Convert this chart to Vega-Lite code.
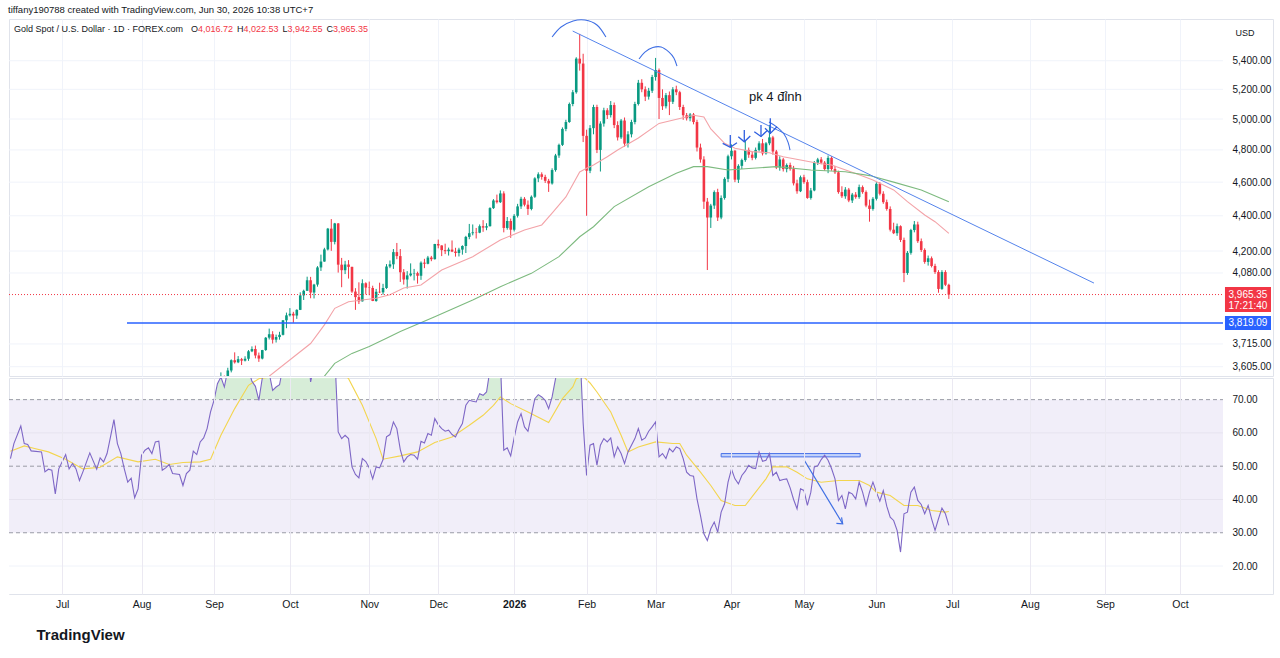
{
  "$schema": "https://vega.github.io/schema/vega-lite/v6.json",
  "padding": {"left": 8, "right": 8, "top": 5, "bottom": 4},
  "title": {"text": "tiffany190788 created with TradingView.com, Jun 30, 2026 10:38 UTC+7", "anchor": "start", "fontSize": 9.5, "fontWeight": "normal", "color": "#131722", "offset": 4},
  "spacing": 0,
  "datasets": {
    "cd": [
      {"i":0,"o":3448,"h":3490,"l":3436,"c":3477},{"i":1,"o":3477,"h":3540,"l":3473,"c":3533},{"i":2,"o":3533,"h":3578,"l":3525,"c":3559},
      {"i":3,"o":3559,"h":3563,"l":3511,"c":3545},{"i":4,"o":3545,"h":3600,"l":3535,"c":3587},{"i":5,"o":3587,"h":3640,"l":3578,"c":3636},
      {"i":6,"o":3636,"h":3674,"l":3620,"c":3626},{"i":7,"o":3626,"h":3656,"l":3622,"c":3641},{"i":8,"o":3641,"h":3647,"l":3613,"c":3634},
      {"i":9,"o":3634,"h":3655,"l":3630,"c":3643},{"i":10,"o":3643,"h":3685,"l":3633,"c":3679},{"i":11,"o":3679,"h":3703,"l":3675,"c":3690},
      {"i":12,"o":3690,"h":3707,"l":3645,"c":3659},{"i":13,"o":3659,"h":3673,"l":3628,"c":3644},{"i":14,"o":3644,"h":3686,"l":3640,"c":3685},
      {"i":15,"o":3685,"h":3749,"l":3681,"c":3746},{"i":16,"o":3746,"h":3791,"l":3737,"c":3763},{"i":17,"o":3763,"h":3778,"l":3717,"c":3736},
      {"i":18,"o":3736,"h":3761,"l":3722,"c":3749},{"i":19,"o":3749,"h":3775,"l":3736,"c":3760},{"i":20,"o":3760,"h":3834,"l":3757,"c":3833},
      {"i":21,"o":3833,"h":3872,"l":3793,"c":3858},{"i":22,"o":3858,"h":3895,"l":3852,"c":3866},{"i":23,"o":3866,"h":3876,"l":3820,"c":3857},
      {"i":24,"o":3857,"h":3889,"l":3840,"c":3886},{"i":25,"o":3886,"h":3977,"l":3885,"c":3961},{"i":26,"o":3961,"h":3991,"l":3937,"c":3985},
      {"i":27,"o":3985,"h":4060,"l":3985,"c":4041},{"i":28,"o":4041,"h":4059,"l":3946,"c":3976},{"i":29,"o":3976,"h":4022,"l":3945,"c":4018},
      {"i":30,"o":4018,"h":4117,"l":4007,"c":4110},{"i":31,"o":4110,"h":4180,"l":4091,"c":4142},{"i":32,"o":4142,"h":4218,"l":4141,"c":4209},
      {"i":33,"o":4209,"h":4330,"l":4203,"c":4326},{"i":34,"o":4326,"h":4381,"l":4201,"c":4251},{"i":35,"o":4251,"h":4359,"l":4237,"c":4356},
      {"i":36,"o":4356,"h":4358,"l":4082,"c":4125},{"i":37,"o":4125,"h":4162,"l":4004,"c":4095},{"i":38,"o":4095,"h":4146,"l":4074,"c":4126},
      {"i":39,"o":4126,"h":4150,"l":4050,"c":4113},{"i":40,"o":4113,"h":4114,"l":3974,"c":3981},{"i":41,"o":3981,"h":3999,"l":3886,"c":3952},
      {"i":42,"o":3952,"h":4030,"l":3916,"c":3930},{"i":43,"o":3930,"h":4046,"l":3929,"c":4025},{"i":44,"o":4025,"h":4030,"l":3966,"c":4002},
      {"i":45,"o":4002,"h":4034,"l":3962,"c":4000},{"i":46,"o":4000,"h":4012,"l":3931,"c":3932},{"i":47,"o":3932,"h":3995,"l":3928,"c":3980},
      {"i":48,"o":3980,"h":4028,"l":3973,"c":3977},{"i":49,"o":3977,"h":4022,"l":3965,"c":4000},{"i":50,"o":4000,"h":4128,"l":3995,"c":4115},
      {"i":51,"o":4115,"h":4148,"l":4106,"c":4127},{"i":52,"o":4127,"h":4211,"l":4102,"c":4194},{"i":53,"o":4194,"h":4245,"l":4155,"c":4172},
      {"i":54,"o":4172,"h":4211,"l":4032,"c":4084},{"i":55,"o":4084,"h":4101,"l":4018,"c":4045},{"i":56,"o":4045,"h":4090,"l":3997,"c":4067},
      {"i":57,"o":4067,"h":4132,"l":4061,"c":4077},{"i":58,"o":4077,"h":4102,"l":4040,"c":4079},{"i":59,"o":4079,"h":4087,"l":4023,"c":4065},
      {"i":60,"o":4065,"h":4143,"l":4043,"c":4136},{"i":61,"o":4136,"h":4157,"l":4106,"c":4130},{"i":62,"o":4130,"h":4173,"l":4127,"c":4164},
      {"i":63,"o":4164,"h":4173,"l":4144,"c":4155},{"i":64,"o":4155,"h":4240,"l":4153,"c":4239},{"i":65,"o":4239,"h":4264,"l":4215,"c":4231},
      {"i":66,"o":4231,"h":4232,"l":4172,"c":4205},{"i":67,"o":4205,"h":4241,"l":4183,"c":4199},{"i":68,"o":4199,"h":4219,"l":4175,"c":4208},
      {"i":69,"o":4208,"h":4259,"l":4194,"c":4197},{"i":70,"o":4197,"h":4218,"l":4169,"c":4189},{"i":71,"o":4189,"h":4218,"l":4170,"c":4208},
      {"i":72,"o":4208,"h":4232,"l":4180,"c":4228},{"i":73,"o":4228,"h":4285,"l":4189,"c":4279},{"i":74,"o":4279,"h":4353,"l":4266,"c":4300},
      {"i":75,"o":4300,"h":4350,"l":4288,"c":4305},{"i":76,"o":4305,"h":4330,"l":4270,"c":4303},{"i":77,"o":4303,"h":4350,"l":4300,"c":4340},
      {"i":78,"o":4340,"h":4375,"l":4308,"c":4332},{"i":79,"o":4332,"h":4357,"l":4317,"c":4340},{"i":80,"o":4340,"h":4450,"l":4338,"c":4445},
      {"i":81,"o":4445,"h":4498,"l":4440,"c":4490},{"i":82,"o":4490,"h":4525,"l":4472,"c":4480},{"i":83,"o":4480,"h":4550,"l":4475,"c":4532},
      {"i":84,"o":4532,"h":4545,"l":4305,"c":4330},{"i":85,"o":4330,"h":4393,"l":4320,"c":4370},{"i":86,"o":4370,"h":4384,"l":4274,"c":4320},
      {"i":87,"o":4320,"h":4410,"l":4310,"c":4400},{"i":88,"o":4400,"h":4470,"l":4390,"c":4455},{"i":89,"o":4455,"h":4512,"l":4440,"c":4500},
      {"i":90,"o":4500,"h":4510,"l":4455,"c":4465},{"i":91,"o":4465,"h":4490,"l":4405,"c":4440},{"i":92,"o":4440,"h":4520,"l":4432,"c":4512},
      {"i":93,"o":4512,"h":4630,"l":4505,"c":4623},{"i":94,"o":4623,"h":4660,"l":4600,"c":4648},{"i":95,"o":4648,"h":4660,"l":4615,"c":4632},
      {"i":96,"o":4632,"h":4645,"l":4595,"c":4608},{"i":97,"o":4608,"h":4620,"l":4541,"c":4592},{"i":98,"o":4592,"h":4685,"l":4585,"c":4674},
      {"i":99,"o":4674,"h":4775,"l":4664,"c":4765},{"i":100,"o":4765,"h":4840,"l":4750,"c":4832},{"i":101,"o":4832,"h":4945,"l":4825,"c":4935},
      {"i":102,"o":4935,"h":4995,"l":4920,"c":4980},{"i":103,"o":4980,"h":5110,"l":4975,"c":5100},{"i":104,"o":5100,"h":5195,"l":5085,"c":5180},
      {"i":105,"o":5180,"h":5425,"l":5170,"c":5415},{"i":106,"o":5415,"h":5595,"l":5330,"c":5380},{"i":107,"o":5380,"h":5450,"l":4850,"c":4890},
      {"i":108,"o":4890,"h":4930,"l":4400,"c":4670},{"i":109,"o":4670,"h":4960,"l":4655,"c":4940},{"i":110,"o":4940,"h":5095,"l":4900,"c":5080},
      {"i":111,"o":5080,"h":5095,"l":4780,"c":4800},{"i":112,"o":4800,"h":4985,"l":4665,"c":4970},{"i":113,"o":4970,"h":5075,"l":4950,"c":5058},
      {"i":114,"o":5058,"h":5072,"l":5000,"c":5026},{"i":115,"o":5026,"h":5120,"l":5010,"c":5093},{"i":116,"o":5093,"h":5110,"l":4940,"c":4960},
      {"i":117,"o":4960,"h":4985,"l":4860,"c":4880},{"i":118,"o":4880,"h":5000,"l":4870,"c":4990},{"i":119,"o":4990,"h":5010,"l":4820,"c":4840},
      {"i":120,"o":4840,"h":4920,"l":4815,"c":4900},{"i":121,"o":4900,"h":4995,"l":4880,"c":4980},{"i":122,"o":4980,"h":5115,"l":4965,"c":5100},
      {"i":123,"o":5100,"h":5265,"l":5090,"c":5245},{"i":124,"o":5245,"h":5270,"l":5180,"c":5200},{"i":125,"o":5200,"h":5220,"l":5120,"c":5150},
      {"i":126,"o":5150,"h":5210,"l":5130,"c":5190},{"i":127,"o":5190,"h":5300,"l":5175,"c":5285},{"i":128,"o":5285,"h":5420,"l":5260,"c":5334},
      {"i":129,"o":5334,"h":5345,"l":5000,"c":5141},{"i":130,"o":5141,"h":5200,"l":5060,"c":5085},{"i":131,"o":5085,"h":5175,"l":5070,"c":5160},
      {"i":132,"o":5160,"h":5185,"l":5026,"c":5115},{"i":133,"o":5115,"h":5215,"l":5100,"c":5200},{"i":134,"o":5200,"h":5225,"l":5160,"c":5180},
      {"i":135,"o":5180,"h":5190,"l":5060,"c":5080},{"i":136,"o":5080,"h":5095,"l":4995,"c":5025},{"i":137,"o":5025,"h":5040,"l":4990,"c":5005},
      {"i":138,"o":5005,"h":5040,"l":4985,"c":5030},{"i":139,"o":5030,"h":5040,"l":4965,"c":4980},{"i":140,"o":4980,"h":4995,"l":4790,"c":4815},
      {"i":141,"o":4815,"h":4840,"l":4720,"c":4740},{"i":142,"o":4740,"h":4760,"l":4440,"c":4483},{"i":143,"o":4483,"h":4505,"l":4096,"c":4390},
      {"i":144,"o":4390,"h":4470,"l":4330,"c":4460},{"i":145,"o":4460,"h":4550,"l":4440,"c":4540},{"i":146,"o":4540,"h":4560,"l":4370,"c":4390},
      {"i":147,"o":4390,"h":4520,"l":4380,"c":4505},{"i":148,"o":4505,"h":4630,"l":4495,"c":4620},{"i":149,"o":4620,"h":4770,"l":4600,"c":4760},
      {"i":150,"o":4760,"h":4835,"l":4740,"c":4795},{"i":151,"o":4795,"h":4800,"l":4600,"c":4615},{"i":152,"o":4615,"h":4710,"l":4595,"c":4700},
      {"i":153,"o":4700,"h":4745,"l":4680,"c":4736},{"i":154,"o":4736,"h":4860,"l":4725,"c":4800},{"i":155,"o":4800,"h":4815,"l":4750,"c":4770},
      {"i":156,"o":4770,"h":4790,"l":4735,"c":4750},{"i":157,"o":4750,"h":4815,"l":4740,"c":4800},{"i":158,"o":4800,"h":4855,"l":4790,"c":4842},
      {"i":159,"o":4842,"h":4870,"l":4765,"c":4778},{"i":160,"o":4778,"h":4850,"l":4770,"c":4842},{"i":161,"o":4842,"h":4960,"l":4830,"c":4880},
      {"i":162,"o":4880,"h":4890,"l":4770,"c":4790},{"i":163,"o":4790,"h":4800,"l":4680,"c":4690},{"i":164,"o":4690,"h":4760,"l":4670,"c":4740},
      {"i":165,"o":4740,"h":4750,"l":4665,"c":4680},{"i":166,"o":4680,"h":4715,"l":4660,"c":4705},{"i":167,"o":4705,"h":4720,"l":4670,"c":4680},
      {"i":168,"o":4680,"h":4700,"l":4580,"c":4593},{"i":169,"o":4593,"h":4615,"l":4530,"c":4545},{"i":170,"o":4545,"h":4640,"l":4540,"c":4630},
      {"i":171,"o":4630,"h":4645,"l":4590,"c":4600},{"i":172,"o":4600,"h":4615,"l":4500,"c":4505},{"i":173,"o":4505,"h":4565,"l":4495,"c":4550},
      {"i":174,"o":4550,"h":4730,"l":4545,"c":4720},{"i":175,"o":4720,"h":4750,"l":4705,"c":4740},{"i":176,"o":4740,"h":4755,"l":4710,"c":4720},
      {"i":177,"o":4720,"h":4730,"l":4670,"c":4680},{"i":178,"o":4680,"h":4765,"l":4655,"c":4750},{"i":179,"o":4750,"h":4760,"l":4670,"c":4680},
      {"i":180,"o":4680,"h":4700,"l":4650,"c":4660},{"i":181,"o":4660,"h":4670,"l":4530,"c":4540},{"i":182,"o":4540,"h":4575,"l":4505,"c":4515},
      {"i":183,"o":4515,"h":4570,"l":4500,"c":4555},{"i":184,"o":4555,"h":4565,"l":4480,"c":4490},{"i":185,"o":4490,"h":4535,"l":4475,"c":4525},
      {"i":186,"o":4525,"h":4540,"l":4500,"c":4510},{"i":187,"o":4510,"h":4585,"l":4500,"c":4570},{"i":188,"o":4570,"h":4580,"l":4530,"c":4540},
      {"i":189,"o":4540,"h":4550,"l":4450,"c":4460},{"i":190,"o":4460,"h":4495,"l":4366,"c":4440},{"i":191,"o":4440,"h":4510,"l":4430,"c":4500},
      {"i":192,"o":4500,"h":4600,"l":4490,"c":4590},{"i":193,"o":4590,"h":4600,"l":4520,"c":4530},{"i":194,"o":4530,"h":4545,"l":4470,"c":4480},
      {"i":195,"o":4480,"h":4495,"l":4430,"c":4440},{"i":196,"o":4440,"h":4455,"l":4310,"c":4320},{"i":197,"o":4320,"h":4360,"l":4295,"c":4300},
      {"i":198,"o":4300,"h":4355,"l":4285,"c":4340},{"i":199,"o":4340,"h":4345,"l":4250,"c":4262},{"i":200,"o":4262,"h":4275,"l":4031,"c":4080},
      {"i":201,"o":4080,"h":4200,"l":4070,"c":4190},{"i":202,"o":4190,"h":4325,"l":4180,"c":4318},{"i":203,"o":4318,"h":4370,"l":4305,"c":4350},
      {"i":204,"o":4350,"h":4366,"l":4245,"c":4255},{"i":205,"o":4255,"h":4270,"l":4195,"c":4206},{"i":206,"o":4206,"h":4215,"l":4130,"c":4140},
      {"i":207,"o":4140,"h":4175,"l":4120,"c":4160},{"i":208,"o":4160,"h":4170,"l":4110,"c":4118},{"i":209,"o":4118,"h":4130,"l":4075,"c":4085},
      {"i":210,"o":4085,"h":4095,"l":3975,"c":3995},{"i":211,"o":3995,"h":4095,"l":3990,"c":4085},{"i":212,"o":4085,"h":4095,"l":4010,"c":4017},
      {"i":213,"o":4016.72,"h":4022.53,"l":3942.55,"c":3965.35}
    ],
    "ma1": [
      {"i":16,"v":3560},{"i":28,"v":3717},{"i":32,"v":3810},{"i":35,"v":3894},{"i":39,"v":3928},{"i":43,"v":3937},{"i":47,"v":3946},
      {"i":51,"v":3964},{"i":55,"v":4000},{"i":60,"v":4016},{"i":66,"v":4096},{"i":75,"v":4169},{"i":83,"v":4262},{"i":90,"v":4318},
      {"i":95,"v":4347},{"i":98,"v":4416},{"i":102,"v":4511},{"i":106,"v":4662},{"i":108,"v":4685},{"i":110,"v":4705},{"i":114,"v":4757},
      {"i":117,"v":4799},{"i":123,"v":4876},{"i":129,"v":4971},{"i":135,"v":5003},{"i":139,"v":5025},{"i":142,"v":5014},{"i":144,"v":4935},
      {"i":148,"v":4842},{"i":151,"v":4810},{"i":156,"v":4789},{"i":161,"v":4782},{"i":165,"v":4757},{"i":170,"v":4736},{"i":175,"v":4716},
      {"i":179,"v":4705},{"i":187,"v":4645},{"i":191,"v":4613},{"i":197,"v":4553},{"i":201,"v":4483},{"i":206,"v":4405},{"i":209,"v":4366},
      {"i":213,"v":4299}
    ],
    "ma2": [
      {"i":31,"v":3540},{"i":35,"v":3621},{"i":40,"v":3669},{"i":45,"v":3702},{"i":50,"v":3743},{"i":54,"v":3776},{"i":64,"v":3851},
      {"i":75,"v":3937},{"i":83,"v":4007},{"i":92,"v":4078},{"i":100,"v":4169},{"i":106,"v":4280},{"i":110,"v":4337},{"i":116,"v":4454},
      {"i":126,"v":4572},{"i":134,"v":4654},{"i":139,"v":4695},{"i":143,"v":4695},{"i":149,"v":4674},{"i":155,"v":4684},{"i":163,"v":4695},
      {"i":173,"v":4674},{"i":183,"v":4664},{"i":190,"v":4640},{"i":197,"v":4600},{"i":205,"v":4553},{"i":213,"v":4483}
    ],
    "rsi": [
      {"i":-59,"v":52.3},{"i":-58,"v":56.8},{"i":-56,"v":62.1},{"i":-55,"v":56.8},{"i":-54,"v":56.5},{"i":-53,"v":54.6},{"i":-50,"v":54.3},
      {"i":-49,"v":48.3},{"i":-48,"v":49.1},{"i":-47,"v":48.8},{"i":-46,"v":41.7},{"i":-45,"v":49.2},{"i":-43,"v":53.5},{"i":-42,"v":49.2},
      {"i":-41,"v":50.8},{"i":-40,"v":49.2},{"i":-39,"v":45.7},{"i":-38,"v":48.3},{"i":-36,"v":54.0},{"i":-34,"v":49.1},{"i":-33,"v":52.5},
      {"i":-32,"v":51.3},{"i":-31,"v":53.8},{"i":-30,"v":58.8},{"i":-29,"v":64.0},{"i":-28,"v":56.8},{"i":-27,"v":53.8},{"i":-26,"v":49.2},
      {"i":-25,"v":45.2},{"i":-24,"v":46.4},{"i":-23,"v":40.5},{"i":-22,"v":43.2},{"i":-21,"v":53.3},{"i":-20,"v":54.8},{"i":-19,"v":55.5},
      {"i":-18,"v":53.8},{"i":-17,"v":57.3},{"i":-16,"v":57.5},{"i":-15,"v":48.8},{"i":-14,"v":49.5},{"i":-13,"v":50.5},{"i":-12,"v":47.8},
      {"i":-10,"v":47.5},{"i":-9,"v":44.2},{"i":-8,"v":47.8},{"i":-7,"v":48.8},{"i":-6,"v":54.5},{"i":-5,"v":53.5},{"i":-4,"v":57.3},
      {"i":-3,"v":58.5},{"i":-2,"v":61.3},{"i":-1,"v":66.3},{"i":0,"v":69.8},{"i":1,"v":74.8},{"i":2,"v":76.8},{"i":3,"v":73.8},
      {"i":4,"v":79},{"i":5,"v":81},{"i":6,"v":80},{"i":7,"v":81},{"i":8,"v":80},{"i":9,"v":81},{"i":10,"v":79},{"i":11,"v":75.5},
      {"i":12,"v":74},{"i":13,"v":69.8},{"i":14,"v":76.5},{"i":15,"v":79},{"i":16,"v":78},{"i":17,"v":72.8},{"i":18,"v":73.8},
      {"i":19,"v":74.5},{"i":20,"v":80},{"i":21,"v":82},{"i":22,"v":81},{"i":23,"v":80},{"i":24,"v":82},{"i":25,"v":85},{"i":26,"v":86},
      {"i":27,"v":88},{"i":28,"v":75.3},{"i":29,"v":80},{"i":30,"v":84},{"i":31,"v":85},{"i":32,"v":87},{"i":33,"v":90},{"i":34,"v":83},
      {"i":35,"v":84},{"i":36,"v":60.3},{"i":37,"v":58.3},{"i":38,"v":59.3},{"i":39,"v":58.3},{"i":40,"v":49.8},{"i":41,"v":47.5},
      {"i":42,"v":46.5},{"i":43,"v":52.3},{"i":44,"v":51.4},{"i":45,"v":49.5},{"i":46,"v":46.2},{"i":47,"v":49.8},{"i":48,"v":49.5},
      {"i":49,"v":52.0},{"i":50,"v":58.8},{"i":51,"v":59.5},{"i":52,"v":63.3},{"i":53,"v":61.3},{"i":54,"v":55.0},{"i":55,"v":51.3},
      {"i":56,"v":52.8},{"i":57,"v":53.5},{"i":58,"v":53.3},{"i":59,"v":52.1},{"i":60,"v":57.5},{"i":61,"v":57.0},{"i":62,"v":59.8},
      {"i":63,"v":59.3},{"i":64,"v":64.3},{"i":65,"v":62.5},{"i":66,"v":61.3},{"i":67,"v":60.5},{"i":68,"v":60.8},{"i":69,"v":59.5},
      {"i":70,"v":58.8},{"i":71,"v":61.0},{"i":72,"v":62.8},{"i":73,"v":68.3},{"i":74,"v":69.8},{"i":75,"v":69.5},{"i":76,"v":69.3},
      {"i":77,"v":71.8},{"i":78,"v":71.3},{"i":79,"v":72.3},{"i":80,"v":79},{"i":81,"v":82},{"i":82,"v":80},{"i":83,"v":82},
      {"i":84,"v":54.8},{"i":85,"v":55.5},{"i":86,"v":53.1},{"i":87,"v":58.5},{"i":88,"v":63.3},{"i":89,"v":65.8},{"i":90,"v":61.8},
      {"i":91,"v":60.5},{"i":92,"v":65.3},{"i":93,"v":70.3},{"i":94,"v":71.5},{"i":95,"v":70.8},{"i":96,"v":69.8},{"i":97,"v":67.3},
      {"i":98,"v":70.8},{"i":99,"v":76.3},{"i":100,"v":79},{"i":101,"v":82},{"i":102,"v":83},{"i":103,"v":85},{"i":104,"v":86},
      {"i":105,"v":90},{"i":106,"v":87},{"i":107,"v":63},{"i":108,"v":47.2},{"i":109,"v":56.3},{"i":110,"v":56.8},{"i":111,"v":50.3},
      {"i":112,"v":56.3},{"i":113,"v":58.3},{"i":114,"v":57.3},{"i":115,"v":58.5},{"i":116,"v":52.8},{"i":117,"v":55.8},{"i":118,"v":53.8},
      {"i":119,"v":50.8},{"i":120,"v":54.3},{"i":122,"v":58.3},{"i":123,"v":61.3},{"i":124,"v":57.8},{"i":125,"v":58.5},{"i":126,"v":60.5},
      {"i":127,"v":61.8},{"i":128,"v":63.3},{"i":129,"v":52.8},{"i":130,"v":53.8},{"i":131,"v":52.3},{"i":132,"v":55.3},{"i":133,"v":54.3},
      {"i":134,"v":55.8},{"i":135,"v":55.3},{"i":136,"v":52.3},{"i":137,"v":48.2},{"i":138,"v":47.2},{"i":139,"v":47.0},{"i":140,"v":40.2},
      {"i":141,"v":35.2},{"i":142,"v":29.7},{"i":143,"v":27.7},{"i":144,"v":31.2},{"i":145,"v":33.2},{"i":146,"v":30.2},{"i":147,"v":36.2},
      {"i":148,"v":38.7},{"i":149,"v":45.2},{"i":150,"v":49.1},{"i":151,"v":46.2},{"i":152,"v":44.7},{"i":153,"v":47.2},{"i":154,"v":48.5},
      {"i":155,"v":50.3},{"i":156,"v":49.5},{"i":157,"v":49.3},{"i":158,"v":54.3},{"i":159,"v":51.5},{"i":160,"v":51.8},{"i":161,"v":53.8},
      {"i":162,"v":47.2},{"i":163,"v":48.2},{"i":164,"v":45.7},{"i":165,"v":46.0},{"i":166,"v":46.2},{"i":167,"v":43.5},{"i":168,"v":40.0},
      {"i":169,"v":37.2},{"i":170,"v":43.2},{"i":171,"v":42.7},{"i":172,"v":38.2},{"i":173,"v":42.2},{"i":174,"v":49.8},{"i":175,"v":50.1},
      {"i":176,"v":52.0},{"i":177,"v":53.3},{"i":178,"v":51.8},{"i":179,"v":49.3},{"i":180,"v":46.2},{"i":181,"v":39.7},{"i":182,"v":41.2},
      {"i":183,"v":37.2},{"i":184,"v":42.2},{"i":185,"v":41.7},{"i":186,"v":40.2},{"i":187,"v":45.2},{"i":188,"v":42.2},{"i":189,"v":38.2},
      {"i":190,"v":42.2},{"i":191,"v":45.2},{"i":192,"v":42.2},{"i":193,"v":39.5},{"i":194,"v":42.7},{"i":195,"v":38.0},{"i":196,"v":34.7},
      {"i":197,"v":33.7},{"i":198,"v":30.7},{"i":199,"v":24.2},{"i":200,"v":35.7},{"i":201,"v":36.2},{"i":202,"v":42.2},{"i":203,"v":43.7},
      {"i":204,"v":39.7},{"i":205,"v":38.5},{"i":206,"v":35.7},{"i":207,"v":38.2},{"i":208,"v":34.2},{"i":209,"v":30.7},{"i":210,"v":34.2},
      {"i":211,"v":37.4},{"i":212,"v":35.7},{"i":213,"v":32.2}
    ],
    "rsima": [
      {"i":-59,"v":54.5},{"i":-55,"v":56.1},{"i":-52,"v":55.3},{"i":-48,"v":54.3},{"i":-43,"v":52.1},{"i":-38,"v":49.2},{"i":-33,"v":49.7},
      {"i":-28,"v":52.8},{"i":-22,"v":51.3},{"i":-17,"v":52.1},{"i":-13,"v":50.5},{"i":-9,"v":51.1},{"i":-4,"v":51.3},{"i":-1,"v":52.1},
      {"i":2,"v":59.3},{"i":6,"v":67.3},{"i":10,"v":74.3},{"i":13,"v":76.3},{"i":18,"v":77},{"i":24,"v":79},{"i":30,"v":81},{"i":35,"v":80},
      {"i":39,"v":76.3},{"i":43,"v":68.3},{"i":47,"v":58.3},{"i":49,"v":52.1},{"i":54,"v":53.1},{"i":59,"v":54.3},{"i":64,"v":57.1},
      {"i":69,"v":58.8},{"i":74,"v":62.3},{"i":78,"v":65.3},{"i":81,"v":68.3},{"i":83,"v":70.8},{"i":86,"v":68.8},{"i":91,"v":66.3},
      {"i":97,"v":63.1},{"i":101,"v":70.3},{"i":104,"v":73.8},{"i":105,"v":76.3},{"i":107,"v":77},{"i":109,"v":75},{"i":111,"v":72.3},
      {"i":115,"v":66.3},{"i":118,"v":59.3},{"i":120,"v":54.3},{"i":123,"v":55.8},{"i":128,"v":57.3},{"i":133,"v":56.8},{"i":135,"v":56.8},
      {"i":137,"v":53.3},{"i":141,"v":48.2},{"i":144,"v":44.2},{"i":147,"v":39.7},{"i":151,"v":38.2},{"i":154,"v":38.2},{"i":157,"v":42.2},
      {"i":160,"v":46.2},{"i":162,"v":49.8},{"i":166,"v":49.8},{"i":169,"v":48.2},{"i":172,"v":46.2},{"i":176,"v":45.2},{"i":181,"v":45.7},
      {"i":187,"v":45.7},{"i":190,"v":44.2},{"i":192,"v":42.2},{"i":196,"v":41.2},{"i":200,"v":38.2},{"i":204,"v":38.2},{"i":208,"v":36.7},
      {"i":212,"v":36.2},{"i":213,"v":36.4}
    ],
    "arcs": [
      {"id":"a1","n":0,"i":98.0,"p":5572},{"id":"a1","n":1,"i":100.6,"p":5646},{"id":"a1","n":2,"i":104.1,"p":5691},
      {"id":"a1","n":3,"i":107.5,"p":5698},{"id":"a1","n":4,"i":111.0,"p":5661},{"id":"a1","n":5,"i":113.6,"p":5572},
      {"id":"a2","n":0,"i":123.2,"p":5412},{"id":"a2","n":1,"i":124.9,"p":5462},{"id":"a2","n":2,"i":127.2,"p":5495},
      {"id":"a2","n":3,"i":129.6,"p":5499},{"id":"a2","n":4,"i":131.9,"p":5462},{"id":"a2","n":5,"i":133.3,"p":5419},
      {"id":"a2","n":6,"i":134.2,"p":5362},
      {"id":"a3","n":0,"i":160.87,"p":4980},{"id":"a3","n":1,"i":163.19,"p":4947},{"id":"a3","n":2,"i":165.22,"p":4902},
      {"id":"a3","n":3,"i":166.38,"p":4850},{"id":"a3","n":4,"i":166.96,"p":4799}
    ],
    "marks": [
      {"id":"s1","n":0,"i":149.65,"p":4895},{"id":"s1","n":1,"i":149.65,"p":4817},
      {"id":"h1","n":0,"i":147.45,"p":4842},{"id":"h1","n":1,"i":149.65,"p":4817},{"id":"h1","n":2,"i":151.59,"p":4846},
      {"id":"s2","n":0,"i":153.71,"p":4928},{"id":"s2","n":1,"i":153.71,"p":4852},
      {"id":"h2","n":0,"i":151.97,"p":4884},{"id":"h2","n":1,"i":153.71,"p":4852},{"id":"h2","n":2,"i":155.45,"p":4889},
      {"id":"s3","n":0,"i":158.55,"p":4960},{"id":"s3","n":1,"i":158.55,"p":4884},
      {"id":"h3","n":0,"i":156.61,"p":4917},{"id":"h3","n":1,"i":158.55,"p":4886},{"id":"h3","n":2,"i":160.29,"p":4923},
      {"id":"s4","n":0,"i":161.25,"p":5005},{"id":"s4","n":1,"i":161.25,"p":4902},
      {"id":"h4","n":0,"i":159.71,"p":4939},{"id":"h4","n":1,"i":161.25,"p":4906},{"id":"h4","n":2,"i":163.19,"p":4949}
    ],
    "hdr": [
      {"t":"Gold Spot / U.S. Dollar · 1D · FOREX.com","part":"n","i":-57.97},
      {"t":"O","part":"n","i":-6.67},{"t":"4,016.72","part":"v","i":-4.64},
      {"t":"H","part":"n","i":6.67},{"t":"4,022.53","part":"v","i":8.55},
      {"t":"L","part":"n","i":19.86},{"t":"3,942.55","part":"v","i":21.31},
      {"t":"C","part":"n","i":32.61},{"t":"3,965.35","part":"v","i":34.49}
    ],
    "pgrid": [{"v":5400},{"v":5200},{"v":5000},{"v":4800},{"v":4600},{"v":4400},{"v":4200},{"v":4080},{"v":3715},{"v":3605}]
  },
  "vconcat": [
    {
      "width": 1264,
      "height": 357,
      "layer": [
        {
          "data": {"name": "pgrid"},
          "mark": {"type": "rule", "color": "#f0f3fa", "strokeWidth": 1},
          "encoding": {
            "y": {"field": "v", "type": "quantitative",
              "scale": {"type": "log", "domain": [3561, 5706], "nice": false, "zero": false, "padding": 0},
              "axis": {"orient": "right", "offset": -50, "values": [5400,5200,5000,4800,4600,4400,4200,4080,3715,3605],
                "format": ",.2f", "grid": false, "ticks": false, "domain": false, "labelPadding": 9, "labelFontSize": 10,
                "labelColor": "#131722", "labelOverlap": false, "labelFlush": false,
                "title": "USD", "titleAngle": 0, "titleX": 12, "titleY": 13, "titleAlign": "left", "titleBaseline": "middle",
                "titleFontSize": 9, "titleFontWeight": "normal", "titleColor": "#131722"}},
            "x": {"datum": -59.42, "type": "quantitative",
              "scale": {"domain": [-59.42, 306.96], "nice": false, "zero": false, "padding": 0},
              "axis": {"values": [-44,-21,0,22,45,65,87,108,128,150,171,192,214,236.5,258.3,280], "grid": true, "gridColor": "#f0f3fa",
                "labels": false, "ticks": false, "domain": false, "title": null}},
            "x2": {"datum": 292.46}
          }
        },
        {
          "data": {"name": "cd"},
          "mark": {"type": "rule", "clip": true, "strokeWidth": 1},
          "encoding": {
            "x": {"field": "i", "type": "quantitative", "scale": {"domain": [-59.42, 306.96], "nice": false, "zero": false, "padding": 0}},
            "y": {"field": "l", "type": "quantitative", "scale": {"type": "log", "domain": [3561, 5706], "nice": false, "zero": false, "padding": 0}},
            "y2": {"field": "h"},
            "color": {"condition": {"test": "datum.c >= datum.o", "value": "#089981"}, "value": "#f23645"}
          }
        },
        {
          "data": {"name": "cd"},
          "mark": {"type": "bar", "clip": true, "size": 2.6},
          "encoding": {
            "x": {"field": "i", "type": "quantitative", "scale": {"domain": [-59.42, 306.96], "nice": false, "zero": false, "padding": 0}},
            "y": {"field": "o", "type": "quantitative", "scale": {"type": "log", "domain": [3561, 5706], "nice": false, "zero": false, "padding": 0}},
            "y2": {"field": "c"},
            "color": {"condition": {"test": "datum.c >= datum.o", "value": "#089981"}, "value": "#f23645"}
          }
        },
        {
          "data": {"name": "ma1"},
          "mark": {"type": "line", "clip": true, "color": "#f3a3a8", "strokeWidth": 1.1},
          "encoding": {"x": {"field": "i", "type": "quantitative", "scale": {"domain": [-59.42, 306.96], "nice": false, "zero": false, "padding": 0}},
            "y": {"field": "v", "type": "quantitative", "scale": {"type": "log", "domain": [3561, 5706], "nice": false, "zero": false, "padding": 0}}}
        },
        {
          "data": {"name": "ma2"},
          "mark": {"type": "line", "clip": true, "color": "#7dba7f", "strokeWidth": 1.1},
          "encoding": {"x": {"field": "i", "type": "quantitative", "scale": {"domain": [-59.42, 306.96], "nice": false, "zero": false, "padding": 0}},
            "y": {"field": "v", "type": "quantitative", "scale": {"type": "log", "domain": [3561, 5706], "nice": false, "zero": false, "padding": 0}}}
        },
        {
          "data": {"values": [{"p": 3965.35}]},
          "mark": {"type": "rule", "clip": true, "color": "#f23645", "strokeDash": [1, 2], "strokeWidth": 1},
          "encoding": {"y": {"field": "p", "type": "quantitative", "scale": {"type": "log", "domain": [3561, 5706], "nice": false, "zero": false, "padding": 0}},
            "x": {"datum": -59.42}, "x2": {"datum": 292.46}}
        },
        {
          "data": {"values": [{"p": 3819.09}]},
          "mark": {"type": "rule", "clip": true, "color": "#2962ff", "strokeWidth": 1.5},
          "encoding": {"y": {"field": "p", "type": "quantitative", "scale": {"type": "log", "domain": [3561, 5706], "nice": false, "zero": false, "padding": 0}},
            "x": {"datum": -25.22}, "x2": {"datum": 292.46}}
        },
        {
          "data": {"values": [{"i": 103.97, "p": 5616, "i2": 255.07, "p2": 4026}]},
          "mark": {"type": "rule", "clip": true, "color": "#5584ec", "strokeWidth": 1},
          "encoding": {"x": {"field": "i", "type": "quantitative", "scale": {"domain": [-59.42, 306.96], "nice": false, "zero": false, "padding": 0}},
            "y": {"field": "p", "type": "quantitative", "scale": {"type": "log", "domain": [3561, 5706], "nice": false, "zero": false, "padding": 0}},
            "x2": {"field": "i2"}, "y2": {"field": "p2"}}
        },
        {
          "data": {"name": "arcs"},
          "mark": {"type": "line", "clip": true, "color": "#3f6fe4", "strokeWidth": 1.1, "interpolate": "cardinal"},
          "encoding": {"x": {"field": "i", "type": "quantitative", "scale": {"domain": [-59.42, 306.96], "nice": false, "zero": false, "padding": 0}},
            "y": {"field": "p", "type": "quantitative", "scale": {"type": "log", "domain": [3561, 5706], "nice": false, "zero": false, "padding": 0}},
            "detail": {"field": "id"}, "order": {"field": "n"}}
        },
        {
          "data": {"name": "marks"},
          "mark": {"type": "line", "clip": true, "color": "#2f5fe0", "strokeWidth": 1.3},
          "encoding": {"x": {"field": "i", "type": "quantitative", "scale": {"domain": [-59.42, 306.96], "nice": false, "zero": false, "padding": 0}},
            "y": {"field": "p", "type": "quantitative", "scale": {"type": "log", "domain": [3561, 5706], "nice": false, "zero": false, "padding": 0}},
            "detail": {"field": "id"}, "order": {"field": "n"}}
        },
        {
          "data": {"values": [{"t": "pk 4 đỉnh", "i": 155.07, "p": 5147}]},
          "mark": {"type": "text", "align": "left", "baseline": "middle", "fontSize": 13, "color": "#131722"},
          "encoding": {"x": {"field": "i", "type": "quantitative", "scale": {"domain": [-59.42, 306.96], "nice": false, "zero": false, "padding": 0}},
            "y": {"field": "p", "type": "quantitative", "scale": {"type": "log", "domain": [3561, 5706], "nice": false, "zero": false, "padding": 0}},
            "text": {"field": "t"}}
        },
        {
          "data": {"name": "hdr"},
          "transform": [{"filter": "datum.part == 'n'"}],
          "mark": {"type": "text", "align": "left", "baseline": "middle", "fontSize": 9, "color": "#131722"},
          "encoding": {"x": {"field": "i", "type": "quantitative", "scale": {"domain": [-59.42, 306.96], "nice": false, "zero": false, "padding": 0}},
            "y": {"datum": 5631}, "text": {"field": "t"}}
        },
        {
          "data": {"name": "hdr"},
          "transform": [{"filter": "datum.part == 'v'"}],
          "mark": {"type": "text", "align": "left", "baseline": "middle", "fontSize": 9, "color": "#f23645"},
          "encoding": {"x": {"field": "i", "type": "quantitative", "scale": {"domain": [-59.42, 306.96], "nice": false, "zero": false, "padding": 0}},
            "y": {"datum": 5631}, "text": {"field": "t"}}
        },
        {
          "data": {"values": [{"p": 3965.35}]},
          "mark": {"type": "bar", "color": "#f23645", "size": 25, "yOffset": 5},
          "encoding": {"y": {"field": "p", "type": "quantitative", "scale": {"type": "log", "domain": [3561, 5706], "nice": false, "zero": false, "padding": 0}},
            "x": {"datum": 293.04}, "x2": {"datum": 306.38}}
        },
        {
          "data": {"values": [{"p": 3819.09}]},
          "mark": {"type": "bar", "color": "#2962ff", "size": 14},
          "encoding": {"y": {"field": "p", "type": "quantitative", "scale": {"type": "log", "domain": [3561, 5706], "nice": false, "zero": false, "padding": 0}},
            "x": {"datum": 293.04}, "x2": {"datum": 306.38}}
        },
        {
          "data": {"values": [{"p": 3965.35, "t": "3,965.35"}, {"p": 3819.09, "t": "3,819.09"}]},
          "mark": {"type": "text", "color": "#ffffff", "fontSize": 10, "align": "center", "baseline": "middle"},
          "encoding": {"y": {"field": "p", "type": "quantitative", "scale": {"type": "log", "domain": [3561, 5706], "nice": false, "zero": false, "padding": 0}},
            "x": {"datum": 299.7}, "text": {"field": "t"}}
        },
        {
          "data": {"values": [{"p": 3965.35, "t": "17:21:40"}]},
          "mark": {"type": "text", "color": "#ffffff", "fontSize": 10, "align": "center", "baseline": "middle", "dy": 11},
          "encoding": {"y": {"field": "p", "type": "quantitative", "scale": {"type": "log", "domain": [3561, 5706], "nice": false, "zero": false, "padding": 0}},
            "x": {"datum": 299.7}, "text": {"field": "t"}}
        }
      ]
    },
    {
      "width": 1264,
      "height": 216,
      "title": {"text": "TradingView", "orient": "bottom", "anchor": "start", "fontSize": 15, "fontWeight": "bold", "color": "#131722", "offset": 18, "dx": 28},
      "layer": [
        {
          "data": {"name": "rsi"},
          "mark": {"type": "area", "clip": true, "color": "#d7edd8"},
          "encoding": {
            "x": {"field": "i", "type": "quantitative",
              "scale": {"domain": [-59.42, 306.96], "nice": false, "zero": false, "padding": 0},
              "axis": {"values": [-44,-21,0,22,45,65,87,108,128,150,171,192,214,236.5,258.3,280],
                "labelExpr": "['Jul','Aug','Sep','Oct','Nov','Dec','2026','Feb','Mar','Apr','May','Jun','Jul','Aug','Sep','Oct'][indexof([-44,-21,0,22,45,65,87,108,128,150,171,192,214,236.5,258.3,280], datum.value)]",
                "labelFontWeight": {"condition": {"test": "datum.value == 87", "value": "bold"}, "value": "normal"},
                "grid": true, "gridColor": "#ebe9f2", "ticks": false, "domain": false, "labelPadding": 5, "labelFontSize": 10.5,
                "labelColor": "#131722", "labelOverlap": false, "labelFlush": false, "title": null, "zindex": 1}},
            "y": {"field": "v", "type": "quantitative",
              "scale": {"domain": [11.6, 76.5], "nice": false, "zero": false, "padding": 0},
              "axis": {"orient": "right", "offset": -50, "values": [70,60,50,40,30,20], "format": ".2f", "grid": false, "ticks": false,
                "domain": false, "labelPadding": 9, "labelFontSize": 10, "labelColor": "#131722", "labelOverlap": false,
                "labelFlush": false, "title": null}},
            "y2": {"datum": 70}
          }
        },
        {
          "data": {"values": [{"lo": 11.6, "hi": 30}]},
          "mark": {"type": "rect", "color": "#ffffff"},
          "encoding": {"y": {"field": "lo", "type": "quantitative", "scale": {"domain": [11.6, 76.5], "nice": false, "zero": false, "padding": 0}},
            "y2": {"field": "hi"}, "x": {"datum": -59.42}, "x2": {"datum": 292.46}}
        },
        {
          "data": {"values": [{"lo": 30, "hi": 70}]},
          "mark": {"type": "rect", "color": "#f1eef9"},
          "encoding": {"y": {"field": "lo", "type": "quantitative", "scale": {"domain": [11.6, 76.5], "nice": false, "zero": false, "padding": 0}},
            "y2": {"field": "hi"}, "x": {"datum": -59.42}, "x2": {"datum": 292.46}}
        },
        {
          "data": {"values": [{"v": 60}, {"v": 40}]},
          "mark": {"type": "rule", "color": "#e6e3ef", "strokeWidth": 1},
          "encoding": {"y": {"field": "v", "type": "quantitative", "scale": {"domain": [11.6, 76.5], "nice": false, "zero": false, "padding": 0}},
            "x": {"datum": -59.42}, "x2": {"datum": 292.46}}
        },
        {
          "data": {"values": [{"v": 20}]},
          "mark": {"type": "rule", "color": "#f0f3fa", "strokeWidth": 1},
          "encoding": {"y": {"field": "v", "type": "quantitative", "scale": {"domain": [11.6, 76.5], "nice": false, "zero": false, "padding": 0}},
            "x": {"datum": -59.42}, "x2": {"datum": 292.46}}
        },
        {
          "data": {"values": [{"v": 70}, {"v": 50}, {"v": 30}]},
          "mark": {"type": "rule", "color": "#9a9ba6", "strokeWidth": 1, "strokeDash": [4, 3]},
          "encoding": {"y": {"field": "v", "type": "quantitative", "scale": {"domain": [11.6, 76.5], "nice": false, "zero": false, "padding": 0}},
            "x": {"datum": -59.42}, "x2": {"datum": 292.46}}
        },
        {
          "data": {"values": [{"i": 147.0, "i2": 187.3, "lo": 52.8, "hi": 53.8}]},
          "mark": {"type": "rect", "fill": "#c3d3fb", "stroke": "#4a73e8", "strokeWidth": 1},
          "encoding": {"x": {"field": "i", "type": "quantitative", "scale": {"domain": [-59.42, 306.96], "nice": false, "zero": false, "padding": 0}},
            "x2": {"field": "i2"},
            "y": {"field": "lo", "type": "quantitative", "scale": {"domain": [11.6, 76.5], "nice": false, "zero": false, "padding": 0}},
            "y2": {"field": "hi"}}
        },
        {
          "data": {"name": "rsima"},
          "mark": {"type": "line", "clip": true, "color": "#f3d54e", "strokeWidth": 1.1},
          "encoding": {"x": {"field": "i", "type": "quantitative", "scale": {"domain": [-59.42, 306.96], "nice": false, "zero": false, "padding": 0}},
            "y": {"field": "v", "type": "quantitative", "scale": {"domain": [11.6, 76.5], "nice": false, "zero": false, "padding": 0}}}
        },
        {
          "data": {"name": "rsi"},
          "mark": {"type": "line", "clip": true, "color": "#7e67c6", "strokeWidth": 1.1},
          "encoding": {"x": {"field": "i", "type": "quantitative", "scale": {"domain": [-59.42, 306.96], "nice": false, "zero": false, "padding": 0}},
            "y": {"field": "v", "type": "quantitative", "scale": {"domain": [11.6, 76.5], "nice": false, "zero": false, "padding": 0}}}
        },
        {
          "data": {"values": [
            {"id": "s", "n": 0, "i": 171.1, "v": 51.8}, {"id": "s", "n": 1, "i": 182.23, "v": 32.7},
            {"id": "h", "n": 0, "i": 180.4, "v": 32.8}, {"id": "h", "n": 1, "i": 182.23, "v": 32.7}, {"id": "h", "n": 2, "i": 181.9, "v": 34.6}
          ]},
          "mark": {"type": "line", "clip": true, "color": "#3f6fe4", "strokeWidth": 1.2},
          "encoding": {"x": {"field": "i", "type": "quantitative", "scale": {"domain": [-59.42, 306.96], "nice": false, "zero": false, "padding": 0}},
            "y": {"field": "v", "type": "quantitative", "scale": {"domain": [11.6, 76.5], "nice": false, "zero": false, "padding": 0}},
            "detail": {"field": "id"}, "order": {"field": "n"}}
        }
      ]
    }
  ],
  "config": {
    "font": "Liberation Sans",
    "view": {"stroke": "#e0e3eb"}
  }
}
